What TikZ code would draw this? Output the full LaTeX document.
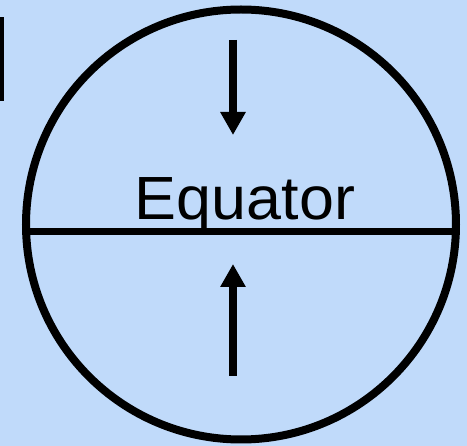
\documentclass[tikz,border=0pt]{standalone}
\usepackage{fontspec}
\setmainfont{Liberation Sans}
\usetikzlibrary{arrows.meta}
\definecolor{bgblue}{RGB}{192,218,250}
\tikzset{
  ring/.style={draw=black, line width=8pt},
  eqline/.style={draw=black, line width=6.5pt},
  bigarrow/.style={draw=black, line width=7.5pt, -{Triangle[width=24pt,length=23pt]}},
  bar/.style={fill=black, draw=none},
  label/.style={font=\fontsize{61}{61}\selectfont, inner sep=0pt, text=black, xscale=1.03}
}
\begin{document}
\begin{tikzpicture}[x=1pt,y=-1pt]
  \fill[bgblue] (0,0) rectangle (467,446);
  \useasboundingbox (0,0) rectangle (467,446);
  % small black bar at the left edge
  \fill[bar] (0,17) rectangle (3.5,101);
  % globe
  \coordinate (c) at (241,224.5);
  \draw[ring] (c) circle[radius=215];
  % equator line
  \coordinate (eqL) at (27,231.5);
  \coordinate (eqR) at (455,231.5);
  \draw[eqline] (eqL) -- (eqR);
  % label
  \node[label, anchor=base] (eq) at (245,220) {Equator};
  % arrows
  \coordinate (a1s) at (233,40);
  \coordinate (a1e) at (233,135);
  \draw[bigarrow] (a1s) -- (a1e);
  \coordinate (a2s) at (233,376);
  \coordinate (a2e) at (233,264);
  \draw[bigarrow] (a2s) -- (a2e);
\end{tikzpicture}
\end{document}
